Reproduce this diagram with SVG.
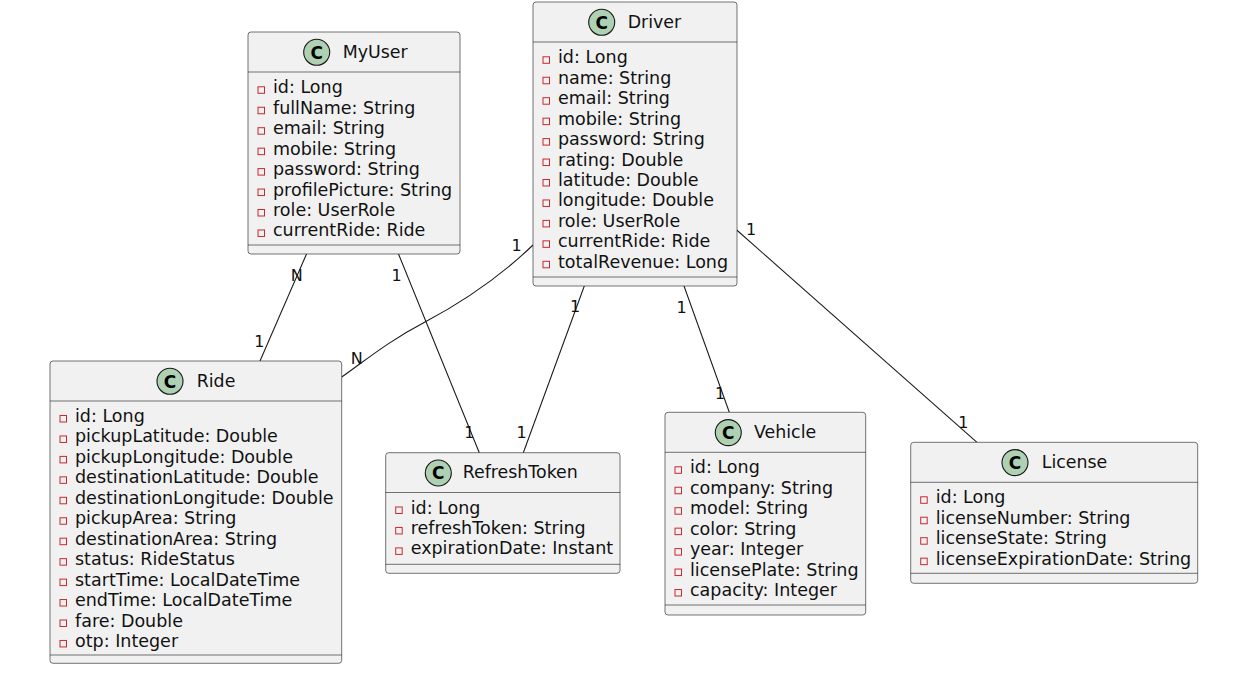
<svg xmlns="http://www.w3.org/2000/svg" width="1238" height="676" viewBox="0 0 1238 676">
<style>
.box{fill:#F1F1F1;stroke:#181818;stroke-width:0.6}
.div{stroke:#181818;stroke-width:0.6;fill:none}
.spot{fill:#ADD1B2;stroke:#181818;stroke-width:1.1}
.spotc{font-family:"DejaVu Sans",sans-serif;font-weight:bold;font-size:17px;fill:#000;text-anchor:middle}
.title{font-family:"DejaVu Sans",sans-serif;font-size:17.4px;fill:#111}
.f{font-family:"DejaVu Sans",sans-serif;font-size:17.5px;fill:#111}
.vis{fill:none;stroke:#C82930;stroke-width:1}
.link{fill:none;stroke:#181818;stroke-width:1.05}
.lbl{font-family:"DejaVu Sans",sans-serif;font-size:16px;fill:#111;text-anchor:middle}
</style>
<rect x="0" y="0" width="1238" height="676" fill="#FFFFFF"/>

<g id="connectors">
<path class="link" d="M306.5,254 L260,361"/>
<text class="lbl" x="296.7" y="280.7">N</text>
<text class="lbl" x="259.3" y="346.7">1</text>

<path class="link" d="M398.5,254 L479.3,452.7"/>
<text class="lbl" x="396.7" y="280.7">1</text>
<text class="lbl" x="469.3" y="438.3">1</text>

<path class="link" d="M533,245 C505,272 470,298 425,322 C387,342 366,360 341.7,377"/>
<text class="lbl" x="516.7" y="251">1</text>
<text class="lbl" x="356.7" y="364">N</text>

<path class="link" d="M584.3,286 L523.3,452.7"/>
<text class="lbl" x="575" y="312.3">1</text>
<text class="lbl" x="521.7" y="438.3">1</text>

<path class="link" d="M684,286 L729.3,412.3"/>
<text class="lbl" x="681.7" y="312.5">1</text>
<text class="lbl" x="720" y="398.5">1</text>

<path class="link" d="M736.7,230 L977,442.3"/>
<text class="lbl" x="751" y="235">1</text>
<text class="lbl" x="963.3" y="427.5">1</text>
</g>

<g id="MyUser">
<rect class="box" x="248" y="32" width="212" height="222" rx="3"/>
<line class="div" x1="248" y1="72" x2="460" y2="72"/>
<line class="div" x1="248" y1="245" x2="460" y2="245"/>
<circle class="spot" cx="316.7" cy="52.3" r="13"/>
<text class="spotc" x="316.7" y="58.5">C</text>
<text class="title" x="342.7" y="57.7">MyUser</text>
<g>
<rect class="vis" x="258" y="86.8" width="6.5" height="6.5"/><text class="f" x="273" y="93.3">id: Long</text>
<rect class="vis" x="258" y="107.25" width="6.5" height="6.5"/><text class="f" x="273" y="113.75">fullName: String</text>
<rect class="vis" x="258" y="127.7" width="6.5" height="6.5"/><text class="f" x="273" y="134.2">email: String</text>
<rect class="vis" x="258" y="148.15" width="6.5" height="6.5"/><text class="f" x="273" y="154.65">mobile: String</text>
<rect class="vis" x="258" y="168.6" width="6.5" height="6.5"/><text class="f" x="273" y="175.1">password: String</text>
<rect class="vis" x="258" y="189.05" width="6.5" height="6.5"/><text class="f" x="273" y="195.55">profilePicture: String</text>
<rect class="vis" x="258" y="209.5" width="6.5" height="6.5"/><text class="f" x="273" y="216">role: UserRole</text>
<rect class="vis" x="258" y="229.95" width="6.5" height="6.5"/><text class="f" x="273" y="236.45">currentRide: Ride</text>
</g>
</g>

<g id="Driver">
<rect class="box" x="533" y="2" width="204" height="284" rx="3"/>
<line class="div" x1="533" y1="42" x2="737" y2="42"/>
<line class="div" x1="533" y1="277" x2="737" y2="277"/>
<circle class="spot" cx="601.7" cy="22.3" r="13"/>
<text class="spotc" x="601.7" y="28.5">C</text>
<text class="title" x="627.7" y="27.7">Driver</text>
<g>
<rect class="vis" x="543" y="56.8" width="6.5" height="6.5"/><text class="f" x="558" y="63.3">id: Long</text>
<rect class="vis" x="543" y="77.25" width="6.5" height="6.5"/><text class="f" x="558" y="83.75">name: String</text>
<rect class="vis" x="543" y="97.7" width="6.5" height="6.5"/><text class="f" x="558" y="104.2">email: String</text>
<rect class="vis" x="543" y="118.15" width="6.5" height="6.5"/><text class="f" x="558" y="124.65">mobile: String</text>
<rect class="vis" x="543" y="138.6" width="6.5" height="6.5"/><text class="f" x="558" y="145.1">password: String</text>
<rect class="vis" x="543" y="159.05" width="6.5" height="6.5"/><text class="f" x="558" y="165.55">rating: Double</text>
<rect class="vis" x="543" y="179.5" width="6.5" height="6.5"/><text class="f" x="558" y="186">latitude: Double</text>
<rect class="vis" x="543" y="199.95" width="6.5" height="6.5"/><text class="f" x="558" y="206.45">longitude: Double</text>
<rect class="vis" x="543" y="220.4" width="6.5" height="6.5"/><text class="f" x="558" y="226.9">role: UserRole</text>
<rect class="vis" x="543" y="240.85" width="6.5" height="6.5"/><text class="f" x="558" y="247.35">currentRide: Ride</text>
<rect class="vis" x="543" y="261.3" width="6.5" height="6.5"/><text class="f" x="558" y="267.8">totalRevenue: Long</text>
</g>
</g>

<g id="Ride">
<rect class="box" x="50" y="361" width="291.7" height="302.3" rx="3"/>
<line class="div" x1="50" y1="401" x2="341.7" y2="401"/>
<line class="div" x1="50" y1="655" x2="341.7" y2="655"/>
<circle class="spot" cx="170" cy="381.3" r="13"/>
<text class="spotc" x="170" y="387.5">C</text>
<text class="title" x="196.7" y="386.7">Ride</text>
<g>
<rect class="vis" x="60" y="415.5" width="6.5" height="6.5"/><text class="f" x="75" y="422">id: Long</text>
<rect class="vis" x="60" y="435.95" width="6.5" height="6.5"/><text class="f" x="75" y="442.45">pickupLatitude: Double</text>
<rect class="vis" x="60" y="456.4" width="6.5" height="6.5"/><text class="f" x="75" y="462.9">pickupLongitude: Double</text>
<rect class="vis" x="60" y="476.85" width="6.5" height="6.5"/><text class="f" x="75" y="483.35">destinationLatitude: Double</text>
<rect class="vis" x="60" y="497.3" width="6.5" height="6.5"/><text class="f" x="75" y="503.8">destinationLongitude: Double</text>
<rect class="vis" x="60" y="517.75" width="6.5" height="6.5"/><text class="f" x="75" y="524.25">pickupArea: String</text>
<rect class="vis" x="60" y="538.2" width="6.5" height="6.5"/><text class="f" x="75" y="544.7">destinationArea: String</text>
<rect class="vis" x="60" y="558.65" width="6.5" height="6.5"/><text class="f" x="75" y="565.15">status: RideStatus</text>
<rect class="vis" x="60" y="579.1" width="6.5" height="6.5"/><text class="f" x="75" y="585.6">startTime: LocalDateTime</text>
<rect class="vis" x="60" y="599.55" width="6.5" height="6.5"/><text class="f" x="75" y="606.05">endTime: LocalDateTime</text>
<rect class="vis" x="60" y="620" width="6.5" height="6.5"/><text class="f" x="75" y="626.5">fare: Double</text>
<rect class="vis" x="60" y="640.45" width="6.5" height="6.5"/><text class="f" x="75" y="646.95">otp: Integer</text>
</g>
</g>

<g id="RefreshToken">
<rect class="box" x="385.7" y="452.7" width="234.3" height="120.6" rx="3"/>
<line class="div" x1="385.7" y1="492.5" x2="620" y2="492.5"/>
<line class="div" x1="385.7" y1="564.3" x2="620" y2="564.3"/>
<circle class="spot" cx="438.3" cy="473" r="13"/>
<text class="spotc" x="438.3" y="479.2">C</text>
<text class="title" x="462.7" y="478.4">RefreshToken</text>
<g>
<rect class="vis" x="395.7" y="507" width="6.5" height="6.5"/><text class="f" x="410.7" y="513.5">id: Long</text>
<rect class="vis" x="395.7" y="527.45" width="6.5" height="6.5"/><text class="f" x="410.7" y="533.95">refreshToken: String</text>
<rect class="vis" x="395.7" y="547.9" width="6.5" height="6.5"/><text class="f" x="410.7" y="554.4">expirationDate: Instant</text>
</g>
</g>

<g id="Vehicle">
<rect class="box" x="665" y="412.3" width="200.7" height="202.7" rx="3"/>
<line class="div" x1="665" y1="452.3" x2="865.7" y2="452.3"/>
<line class="div" x1="665" y1="605" x2="865.7" y2="605"/>
<circle class="spot" cx="728.3" cy="432.6" r="13"/>
<text class="spotc" x="728.3" y="438.8">C</text>
<text class="title" x="754" y="438">Vehicle</text>
<g>
<rect class="vis" x="675" y="466.8" width="6.5" height="6.5"/><text class="f" x="690" y="473.3">id: Long</text>
<rect class="vis" x="675" y="487.25" width="6.5" height="6.5"/><text class="f" x="690" y="493.75">company: String</text>
<rect class="vis" x="675" y="507.7" width="6.5" height="6.5"/><text class="f" x="690" y="514.2">model: String</text>
<rect class="vis" x="675" y="528.15" width="6.5" height="6.5"/><text class="f" x="690" y="534.65">color: String</text>
<rect class="vis" x="675" y="548.6" width="6.5" height="6.5"/><text class="f" x="690" y="555.1">year: Integer</text>
<rect class="vis" x="675" y="569.05" width="6.5" height="6.5"/><text class="f" x="690" y="575.55">licensePlate: String</text>
<rect class="vis" x="675" y="589.5" width="6.5" height="6.5"/><text class="f" x="690" y="596">capacity: Integer</text>
</g>
</g>

<g id="License">
<rect class="box" x="910.7" y="442.3" width="287" height="141" rx="3"/>
<line class="div" x1="910.7" y1="482.3" x2="1197.7" y2="482.3"/>
<line class="div" x1="910.7" y1="573.3" x2="1197.7" y2="573.3"/>
<circle class="spot" cx="1015" cy="462.6" r="13"/>
<text class="spotc" x="1015" y="468.8">C</text>
<text class="title" x="1041.7" y="468">License</text>
<g>
<rect class="vis" x="920.7" y="496.8" width="6.5" height="6.5"/><text class="f" x="935.7" y="503.3">id: Long</text>
<rect class="vis" x="920.7" y="517.25" width="6.5" height="6.5"/><text class="f" x="935.7" y="523.75">licenseNumber: String</text>
<rect class="vis" x="920.7" y="537.7" width="6.5" height="6.5"/><text class="f" x="935.7" y="544.2">licenseState: String</text>
<rect class="vis" x="920.7" y="558.15" width="6.5" height="6.5"/><text class="f" x="935.7" y="564.65">licenseExpirationDate: String</text>
</g>
</g>
</svg>
